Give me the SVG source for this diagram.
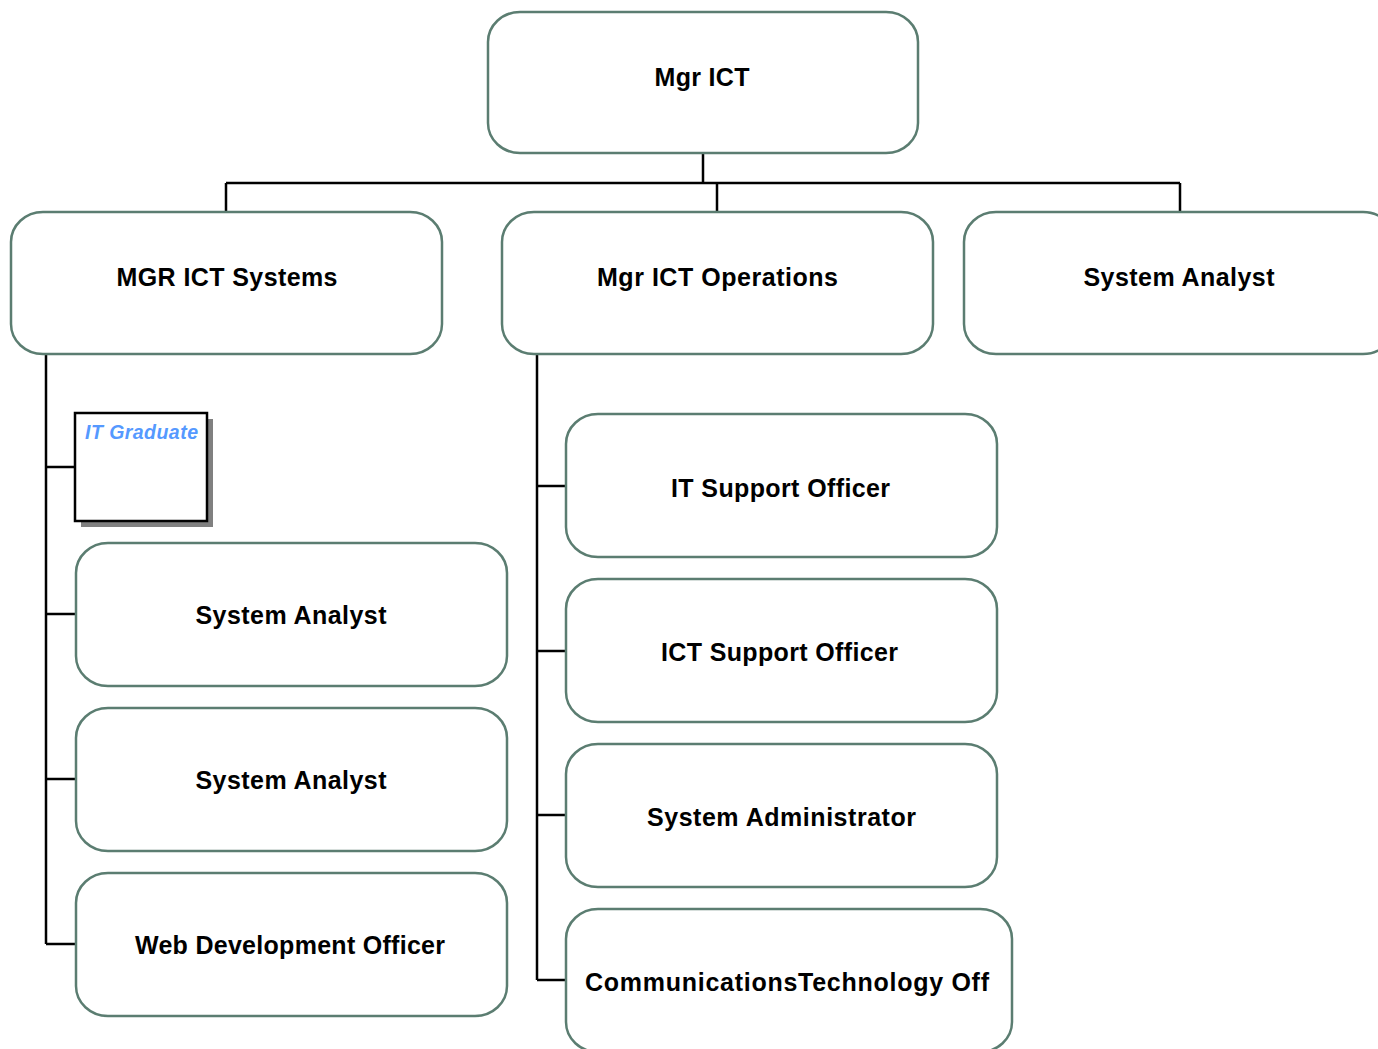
<svg xmlns="http://www.w3.org/2000/svg" width="1378" height="1049" viewBox="0 0 1378 1049">
<style>
.box{fill:#fff;stroke:#5b7d71;stroke-width:2.5}
.lbl{font-family:"Liberation Sans",Arial,sans-serif;font-weight:bold;font-size:25px;fill:#000;text-anchor:middle}
.con{stroke:#000;stroke-width:2.5;fill:none}
.grad{font-family:"Liberation Sans",Arial,sans-serif;font-weight:bold;font-style:italic;font-size:19.5px;fill:#5599ff}
</style>
<rect width="1378" height="1049" fill="#fff"/>
<g id="connectors">
<path class="con" d="M703 153V183M226 183H1180M226 183V212M717 183V212M1180 183V212"/>
<path class="con" d="M46 354V944M46 467H76M46 614H76M46 779H76M46 944H76"/>
<path class="con" d="M537 354V980M537 486H566M537 651H566M537 815H566M537 980H566"/>
</g>
<g id="mgr-ict"><rect class="box" x="488" y="12" width="430" height="141" rx="32" ry="30"/><text class="lbl" x="702" y="86" textLength="95" lengthAdjust="spacing">Mgr ICT</text></g>
<g id="mgr-ict-systems"><rect class="box" x="11" y="212" width="431" height="142" rx="32" ry="30"/><text class="lbl" x="227" y="286" textLength="221" lengthAdjust="spacing">MGR ICT Systems</text></g>
<g id="mgr-ict-operations"><rect class="box" x="502" y="212" width="431" height="142" rx="32" ry="30"/><text class="lbl" x="717.5" y="286" textLength="241" lengthAdjust="spacing">Mgr ICT Operations</text></g>
<g id="system-analyst-top"><rect class="box" x="964" y="212" width="431" height="142" rx="32" ry="30"/><text class="lbl" x="1179" y="286" textLength="191" lengthAdjust="spacing">System Analyst</text></g>
<g id="it-graduate"><rect x="81" y="419" width="132" height="108" fill="#808080"/><rect x="75" y="413" width="132" height="108" fill="#fff" stroke="#000" stroke-width="2.5"/><text class="grad" x="85" y="439" textLength="113" lengthAdjust="spacing">IT Graduate</text></g>
<g id="system-analyst-1"><rect class="box" x="76" y="543" width="431" height="143" rx="32" ry="30"/><text class="lbl" x="291" y="624" textLength="191" lengthAdjust="spacing">System Analyst</text></g>
<g id="system-analyst-2"><rect class="box" x="76" y="708" width="431" height="143" rx="32" ry="30"/><text class="lbl" x="291" y="789" textLength="191" lengthAdjust="spacing">System Analyst</text></g>
<g id="web-development-officer"><rect class="box" x="76" y="873" width="431" height="143" rx="32" ry="30"/><text class="lbl" x="290" y="954" textLength="310" lengthAdjust="spacing">Web Development Officer</text></g>
<g id="it-support-officer"><rect class="box" x="566" y="414" width="431" height="143" rx="32" ry="30"/><text class="lbl" x="780.5" y="496.5" textLength="219" lengthAdjust="spacing">IT Support Officer</text></g>
<g id="ict-support-officer"><rect class="box" x="566" y="579" width="431" height="143" rx="32" ry="30"/><text class="lbl" x="779.5" y="661" textLength="237" lengthAdjust="spacing">ICT Support Officer</text></g>
<g id="system-administrator"><rect class="box" x="566" y="744" width="431" height="143" rx="32" ry="30"/><text class="lbl" x="781.5" y="826" textLength="269" lengthAdjust="spacing">System Administrator</text></g>
<g id="communications-technology-officer"><rect class="box" x="566" y="909" width="446" height="143" rx="32" ry="30"/><text class="lbl" x="787" y="991" textLength="404" lengthAdjust="spacing">CommunicationsTechnology Off</text></g>
</svg>
